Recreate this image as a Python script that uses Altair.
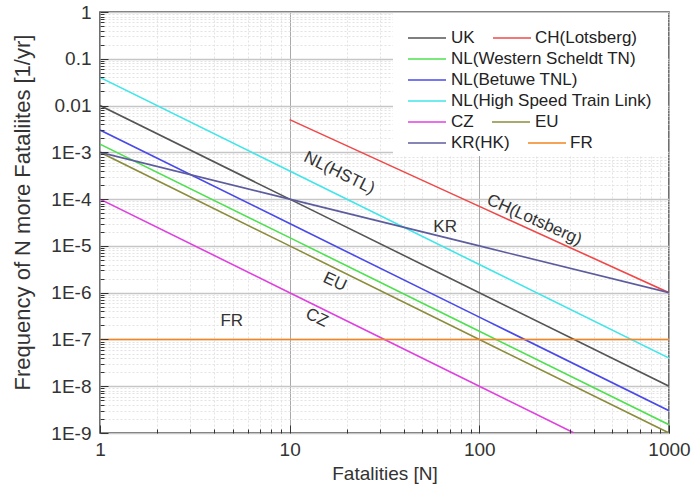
import altair as alt
import pandas as pd

# ---- data (F-N curves) ----
n_dec = [1, 10, 100, 1000]
uk = [1e-2, 1e-4, 1e-6, 1e-8]
ch_n = [10, 100, 1000]
ch = [5e-3, 7e-5, 1e-6]
nl_ws = [1.5e-3, 1.5e-5, 1.5e-7, 1.5e-9]
nl_bt = [3e-3, 3e-5, 3e-7, 3e-9]
nl_hs = [4e-2, 4e-4, 4e-6, 4e-8]
cz_n = [1, 10, 100, 316]
cz = [1e-4, 1e-6, 1e-8, 1e-9]
eu = [1e-3, 1e-5, 1e-7, 1e-9]
kr = [1e-3, 1e-4, 1e-5, 1e-6]
fr = [1e-7, 1e-7, 1e-7, 1e-7]

names = ["UK", "CH(Lotsberg)", "NL(Western Scheldt TN)", "NL(Betuwe TNL)",
         "NL(High Speed Train Link)", "CZ", "EU", "KR(HK)", "FR"]
colors = ["#555555", "#f04848", "#4ee04e", "#4a4ae8", "#40e6ea",
          "#e040e0", "#8c8c3c", "#5c5c9e", "#f5851f"]

ann_text = ["NL(HSTL)", "CH(Lotsberg)", "KR", "EU", "CZ", "FR"]
ann_n = [18.3, 195, 66, 17.3, 13.9, 4.95]
ann_f = [3.6e-4, 3.6e-5, 2.5e-5, 1.7e-6, 2.9e-7, 2.5e-7]
ann_angle = [26, 24, 0, 25, 25, 0]

series = [(names[0], n_dec, uk), (names[1], ch_n, ch), (names[2], n_dec, nl_ws),
          (names[3], n_dec, nl_bt), (names[4], n_dec, nl_hs), (names[5], cz_n, cz),
          (names[6], n_dec, eu), (names[7], n_dec, kr), (names[8], n_dec, fr)]
rows = []
for name, ns, fs in series:
    for n, f in zip(ns, fs):
        rows.append({"series": name, "N": n, "F": f})
df = pd.DataFrame(rows)
ann = pd.DataFrame({"t": ann_text, "N": ann_n, "F": ann_f, "a": ann_angle})

FONT = "Liberation Sans"
W, H = 569, 421

major_x = [1, 10, 100, 1000]
minor_x = [k * 10 ** e for e in range(0, 3) for k in range(2, 10)]
major_y = [10.0 ** e for e in range(-9, 1)]
minor_y = [k * 10.0 ** e for e in range(-9, 0) for k in range(2, 10)]

xs = alt.Scale(type="log", domain=[1, 1000], nice=False)
ys = alt.Scale(type="log", domain=[1e-9, 1], nice=False)

base = alt.Chart(df)

# minor grid
minor_grid = base.mark_point(opacity=0).encode(
    x=alt.X("N:Q", scale=xs, axis=alt.Axis(orient="bottom", values=minor_x, grid=True,
            gridColor="#e3e3e3", gridDash=[2, 2], gridWidth=1, labels=False, ticks=False,
            domain=False, title=None)),
    y=alt.Y("F:Q", scale=ys, axis=alt.Axis(orient="left", values=minor_y, grid=True,
            gridColor="#e3e3e3", gridDash=[2, 2], gridWidth=1, labels=False, ticks=False,
            domain=False, title=None)),
)

# major grid + labels + titles
y_label_expr = ("datum.value > 0.5 ? '1' : datum.value > 0.05 ? '0.1' : datum.value > 0.005 ? '0.01' : "
                "'1E' + round(log(datum.value) / LN10)")
major_grid = base.mark_point(opacity=0).encode(
    x=alt.X("N:Q", scale=xs, axis=alt.Axis(orient="bottom", values=major_x, grid=True,
            gridColor="#a9a9a9", gridWidth=1, labels=True, ticks=False, domain=False,
            labelExpr="format(datum.value, 'd')", labelFont=FONT, labelFontSize=19,
            labelColor="#333333", labelPadding=7, labelFlush=False, labelOverlap=False,
            title="Fatalities [N]", titleFont=FONT, titleFontSize=19, titleFontWeight="normal",
            titleColor="#333333", titleY=31, titleBaseline="top")),
    y=alt.Y("F:Q", scale=ys, axis=alt.Axis(orient="left", values=major_y, grid=True,
            gridColor="#c6c6c6", gridWidth=1.6, labels=True, ticks=False, domain=False,
            labelExpr=y_label_expr, labelFont=FONT, labelFontSize=19, labelColor="#333333",
            labelPadding=9, labelFlush=False, labelOverlap=False,
            title="Frequency of N more Fataliites [1/yr]", titleFont=FONT, titleFontSize=22,
            titleFontWeight="normal", titleColor="#333333", titleX=-78, titleY=200,
            titleBaseline="middle", titleAnchor="middle")),
)

# inward ticks (axes placed on the opposite edge, shifted inside)
def tick_layer(xv, yv, size):
    return base.mark_point(opacity=0).encode(
        x=alt.X("N:Q", scale=xs, axis=alt.Axis(orient="top", offset=-H, values=xv, grid=False,
                labels=False, ticks=True, tickSize=size, tickColor="#333333", tickWidth=1,
                domain=False, title=None, zindex=1)),
        y=alt.Y("F:Q", scale=ys, axis=alt.Axis(orient="right", offset=-W, values=yv, grid=False,
                labels=False, ticks=True, tickSize=size, tickColor="#333333", tickWidth=1,
                domain=False, title=None, zindex=1)),
    )

ticks_major = tick_layer(major_x, major_y, 8)
ticks_minor = tick_layer(minor_x, minor_y, 4)

lines = base.mark_line(strokeWidth=1.6, clip=True).encode(
    x=alt.X("N:Q", scale=xs, axis=None),
    y=alt.Y("F:Q", scale=ys, axis=None),
    color=alt.Color("series:N", scale=alt.Scale(domain=names, range=colors), legend=None),
    detail="series:N",
)

labels = alt.Chart(ann).mark_text(font=FONT, fontSize=17, color="#333333",
                                  align="center", baseline="middle").encode(
    x=alt.X("N:Q", scale=xs, axis=None),
    y=alt.Y("F:Q", scale=ys, axis=None),
    text="t:N",
    angle=alt.Angle("a:Q", scale=None),
)

# legend box
one = pd.DataFrame({"k": [0]})
legend_bg = alt.Chart(one).mark_rect(color="white").encode(
    x=alt.value(293), x2=alt.value(568), y=alt.value(1), y2=alt.value(144))

legend_layout = [  # (name index, row, symbol x start, text x)
    (0, 0, 308, 351), (1, 0, 393, 435),
    (2, 1, 308, 351),
    (3, 2, 308, 351),
    (4, 3, 308, 351),
    (5, 4, 308, 351), (6, 4, 392, 435),
    (7, 5, 308, 351), (8, 5, 428, 470),
]
legend_layers = []
for idx, row, sx, tx in legend_layout:
    yy = 26 + row * 21
    legend_layers.append(
        alt.Chart(one).mark_rule(strokeWidth=1.6, color=colors[idx]).encode(
            x=alt.value(sx), x2=alt.value(sx + 38), y=alt.value(yy)))
    legend_layers.append(
        alt.Chart(pd.DataFrame({"t": [names[idx]]})).mark_text(
            font=FONT, fontSize=17, color="#222222", align="left", baseline="middle").encode(
            x=alt.value(tx), y=alt.value(yy), text="t:N"))

chart = alt.layer(minor_grid, major_grid, ticks_minor, ticks_major, lines, labels,
                  legend_bg, *legend_layers).resolve_axis(
    x="independent", y="independent"
).properties(
    width=W, height=H,
    padding={"left": 100, "top": 12, "right": 23, "bottom": 53},
    autosize=alt.AutoSizeParams(type="none"),
    background="white",
).configure_view(stroke="#404040", strokeWidth=1.5)

chart.save("out.html", embed_options={"renderer": "svg", "actions": False})
